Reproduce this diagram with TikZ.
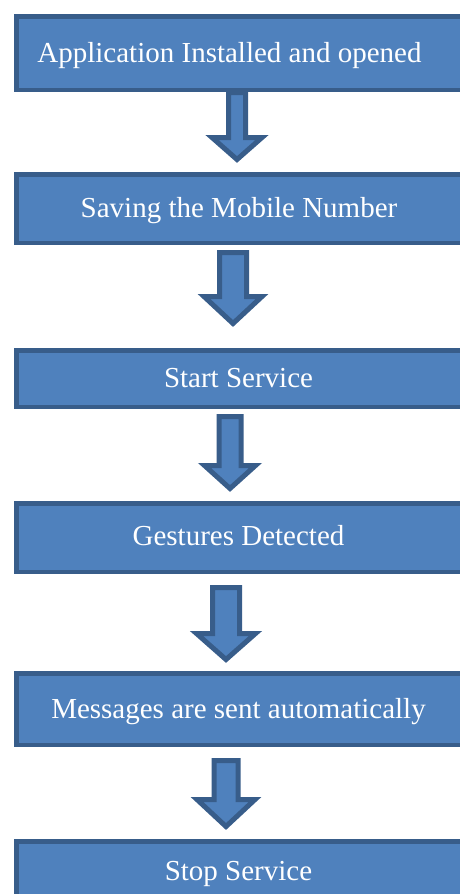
\documentclass[tikz,border=0pt]{standalone}
\usepackage{fontspec}
\setmainfont{Liberation Serif}
\definecolor{boxfill}{HTML}{4F81BD}
\definecolor{boxline}{HTML}{385D8A}
% cx, shaft half-width, top, head start, head half-width, tip (outer edges, px)
\newcommand\blockarr[6]{%
  \draw[blockarrow] ({#1-#2+2.5},{#3+2.5}) -- ({#1+#2-2.5},{#3+2.5}) -- ({#1+#2-2.5},{#4+2.5})
    -- ({#1+#5-3.5},{#4+2.5}) -- (#1,{#6-3.5}) -- ({#1-#5+3.5},{#4+2.5})
    -- ({#1-#2+2.5},{#4+2.5}) -- cycle;}
\begin{document}
\begin{tikzpicture}[x=1pt,y=-1pt,
  box/.style={draw=boxline, fill=boxfill, line width=4.5pt, rectangle, inner sep=0pt,
              anchor=north west, minimum width=470pt},
  lbl/.style={text=white, font=\fontsize{29}{29}\selectfont, anchor=base, inner sep=0pt},
  blockarrow/.style={draw=boxline, fill=boxfill, line width=5pt, line join=miter}]
\useasboundingbox (0,0) rectangle (460,894);
\clip (0,0) rectangle (460,894);
\fill[white] (0,0) rectangle (460,894);
% boxes
\node[box, minimum height=73.5pt] (b1) at (14,14.25) {};
\node[box, minimum height=68.5pt] (b2) at (14,172.25) {};
\node[box, minimum height=56.5pt] (b3) at (14,348.25) {};
\node[box, minimum height=68.5pt] (b4) at (14,501.25) {};
\node[box, minimum height=71.5pt] (b5) at (14,671.25) {};
\node[box, minimum height=90pt]   (b6) at (14,839.25) {};
% labels
\node[lbl] (t1) at (229.5,62)  {Application Installed and opened};
\node[lbl] (t2) at (239,217)   {Saving the Mobile Number};
\node[lbl] (t3) at (238.5,387) {Start Service};
\node[lbl] (t4) at (238.5,545) {Gestures Detected};
\node[lbl] (t5) at (238.5,718) {Messages are sent automatically};
\node[lbl] (t6) at (238.5,880) {Stop Service};
% block arrows
\blockarr{237}{11}{90}{135}{28.5}{163}
\blockarr{233}{16}{250}{294}{32.5}{327}
\blockarr{230}{13.5}{414}{463}{29}{492}
\blockarr{226}{16}{585}{631}{33}{663}
\blockarr{226}{14.5}{758}{797}{32.5}{830}
\end{tikzpicture}
\end{document}
